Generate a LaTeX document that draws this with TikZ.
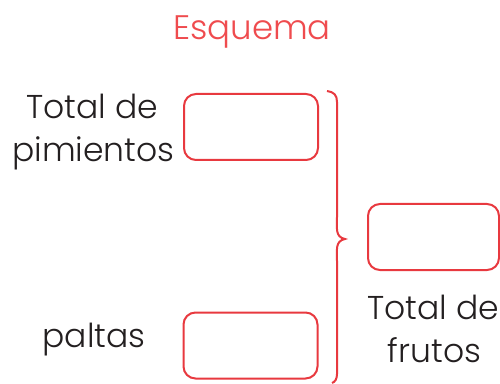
\documentclass[tikz,border=0pt]{standalone}
\usepackage{fontspec}
\setmainfont{Poppins}[UprightFont=* Light]
\definecolor{boxred}{HTML}{E8393F}
\definecolor{titlered}{HTML}{EF4B4E}
\definecolor{txt}{HTML}{231F20}
\begin{document}
\begin{tikzpicture}[x=1pt,y=1pt,
  answerbox/.style={draw=boxred,line width=2pt,rounded corners=12pt,minimum width=134pt,minimum height=66pt,inner sep=0pt},
  lbl/.style={anchor=base,inner sep=0pt,text=txt,font=\fontsize{33}{40}\selectfont},
  ttl/.style={anchor=base,inner sep=0pt,text=titlered,font=\fontsize{34}{40}\selectfont}]
\useasboundingbox (0,0) rectangle (500,383);
\node[ttl] (title) at (252,343) {Esquema};
\node[answerbox] (b1) at (251,256) {};
\node[answerbox] (b2) at (250.5,37.5) {};
\node[answerbox,minimum width=131pt] (b3) at (433.5,146) {};
\node[lbl] (l1a) at (92,264) {Total de};
\node[lbl] (l1b) at (93.5,221) {pimientos};
\node[lbl] (l2) at (94,36) {paltas};
\node[lbl] (l3a) at (433,64) {Total de};
\node[lbl] (l3b) at (434.5,21) {frutos};
\coordinate (bt) at (327,292);
\coordinate (bm) at (345,144);
\coordinate (bb) at (332,0);
\draw[boxred,line width=2pt]
  (bt) .. controls (334,291) and (337,288) .. (337,281)
  -- (337,166) .. controls (337,155) and (335,146) .. (bm)
  .. controls (335,142) and (337,133) .. (337,122)
  -- (337,9) .. controls (337,4) and (335,1) .. (bb);
\end{tikzpicture}
\end{document}
